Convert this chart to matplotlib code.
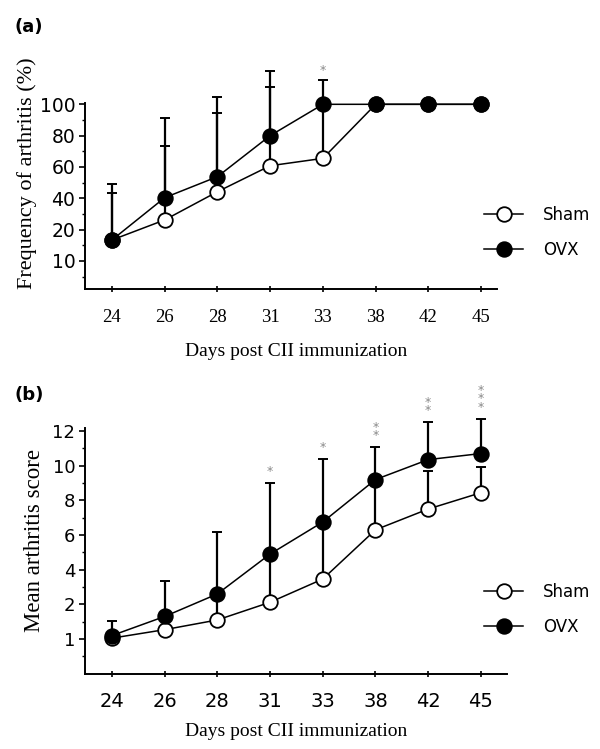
import numpy as np
import matplotlib
matplotlib.use("Agg")
import matplotlib.pyplot as plt
from matplotlib.ticker import FixedLocator

# days shown as evenly spaced categories
days = ['24', '26', '28', '31', '33', '38', '42', '45']

# (a) frequency of arthritis, axis units (label "10" sits at 0)
freq_sham = [13.4, 26.2, 44.2, 60.8, 65.5, 100, 100, 100]
freq_ovx = [13.4, 40.4, 53.8, 80.0, 100, 100, 100, 100]
freq_sham_up = [43.6, 73.6, 94.6, 110.8, 98, 100, 100, 100]
freq_ovx_up = [48.9, 91.0, 104.8, 121.2, 115.5, 100, 100, 100]
freq_stars = ['', '', '', '', '*', '', '', '']
freq_yticks = [0, 20, 40, 60, 80, 100]
freq_ylabels = ['10', '20', '40', '60', '80', '100']
freq_minor = [-10, 10, 30, 50, 70, 90]

# (b) mean arthritis score, axis units (label "1" sits at 0)
score_sham = [0.05, 0.54, 1.1, 2.12, 3.46, 6.3, 7.5, 8.44]
score_ovx = [0.2, 1.3, 2.6, 4.9, 6.75, 9.2, 10.35, 10.7]
score_sham_up = [0.2, 1.3, 2.6, 4.9, 6.75, 9.2, 9.7, 9.9]
score_ovx_up = [1.04, 3.37, 6.17, 8.98, 10.37, 11.06, 12.5, 12.7]
score_stars = ['', '', '', '*', '*', '**', '**', '***']
score_yticks = [0, 2, 4, 6, 8, 10, 12]
score_ylabels = ['1', '2', '4', '6', '8', '10', '12']
score_minor = [-1, 1, 3, 5, 7, 9, 11]

SANS = 'DejaVu Sans'
SERIF = 'Liberation Serif'
W, H = 600, 749

fig = plt.figure(figsize=(6, 7.49), dpi=100)


def px_axes(left, right, top, bottom):
    return fig.add_axes([left / W, 1 - bottom / H, (right - left) / W, (bottom - top) / H])


def draw_panel(ax, sham, ovx, sham_up, ovx_up, stars, star_off, ylo, ytop):
    x = np.arange(len(days))
    sham = np.array(sham)
    ovx = np.array(ovx)
    for m, up in ((sham, np.array(sham_up)), (ovx, np.array(ovx_up))):
        ax.errorbar(x, m, yerr=[np.zeros_like(m), up - m], fmt='none', ecolor='black',
                    elinewidth=1.6, capsize=3.5, capthick=1.4, zorder=2)
    ax.plot(x, sham, '-o', color='black', lw=1.1, ms=10.5, mfc='white', mec='black',
            mew=1.3, zorder=3, label='Sham')
    ax.plot(x, ovx, '-o', color='black', lw=1.1, ms=10.5, mfc='black', mec='black',
            mew=1.3, zorder=4, label='OVX')
    for xi, s, up in zip(x, stars, ovx_up):
        if s:
            ax.text(xi, up + star_off, '\n'.join(s), ha='center', va='bottom', color='#8a8a8a',
                    fontsize=9, linespacing=0.55, family=SANS)
    ax.spines['top'].set_visible(False)
    ax.spines['right'].set_visible(False)
    ax.spines['left'].set_linewidth(1.4)
    ax.spines['bottom'].set_linewidth(1.4)
    ax.spines['left'].set_bounds(ylo, ytop)
    ax.set_xticks(x)
    ax.tick_params(axis='y', which='major', direction='out', length=4, width=1.2, pad=3)
    ax.tick_params(axis='y', which='minor', direction='out', length=2.5, width=1.0)
    ax.tick_params(axis='x', which='major', direction='inout', length=5, width=1.2)
    return x


# panel (a)
ax1 = px_axes(85, 497, 57.3, 289.2)
draw_panel(ax1, freq_sham, freq_ovx, freq_sham_up, freq_ovx_up, freq_stars, 2, -18, 101)
ax1.set_xlim(-0.51, 7.3)
ax1.set_ylim(-18, 130)
ax1.set_yticks(freq_yticks)
ax1.set_yticklabels(freq_ylabels, family=SANS, fontsize=13.5)
ax1.yaxis.set_minor_locator(FixedLocator(freq_minor))
ax1.set_xticklabels(days, family=SERIF, fontsize=13.5)
ax1.tick_params(axis='x', pad=12)
fig.text(27 / W, 1 - 173 / H, 'Frequency of arthritis (%)', rotation=90, ha='center', va='center',
         family=SERIF, fontsize=16)
fig.text(296 / W, 1 - 352 / H, 'Days post CII immunization', ha='center', va='center',
         family=SERIF, fontsize=14)
fig.text(15 / W, 1 - 27 / H, '(a)', ha='left', va='center', family=SANS, fontsize=13,
         fontweight='bold')
ax1.legend(loc='center left', bbox_to_anchor=(476 / W, 1 - 232.5 / H), bbox_transform=fig.transFigure,
           frameon=False, borderpad=0, handlelength=2.3, handletextpad=1.2, labelspacing=1.0,
           prop={'family': SANS, 'size': 12})

# panel (b)
ax2 = px_axes(85, 507.3, 405.0, 673.7)
draw_panel(ax2, score_sham, score_ovx, score_sham_up, score_ovx_up, score_stars, 0.3, -2, 12.2)
ax2.set_xlim(-0.51, 7.5)
ax2.set_ylim(-2, 13.5)
ax2.set_yticks(score_yticks)
ax2.set_yticklabels(score_ylabels, family=SANS, fontsize=13)
ax2.yaxis.set_minor_locator(FixedLocator(score_minor))
ax2.set_xticklabels(days, family=SANS, fontsize=14)
ax2.tick_params(axis='x', pad=11)
fig.text(35 / W, 1 - 541 / H, 'Mean arthritis score', rotation=90, ha='center', va='center',
         family=SERIF, fontsize=16.5)
fig.text(296 / W, 1 - 732 / H, 'Days post CII immunization', ha='center', va='center',
         family=SERIF, fontsize=14)
fig.text(15 / W, 1 - 395 / H, '(b)', ha='left', va='center', family=SANS, fontsize=13,
         fontweight='bold')
ax2.legend(loc='center left', bbox_to_anchor=(476 / W, 1 - 609.5 / H), bbox_transform=fig.transFigure,
           frameon=False, borderpad=0, handlelength=2.3, handletextpad=1.2, labelspacing=1.0,
           prop={'family': SANS, 'size': 12})

fig.savefig('out.png', dpi=100)
